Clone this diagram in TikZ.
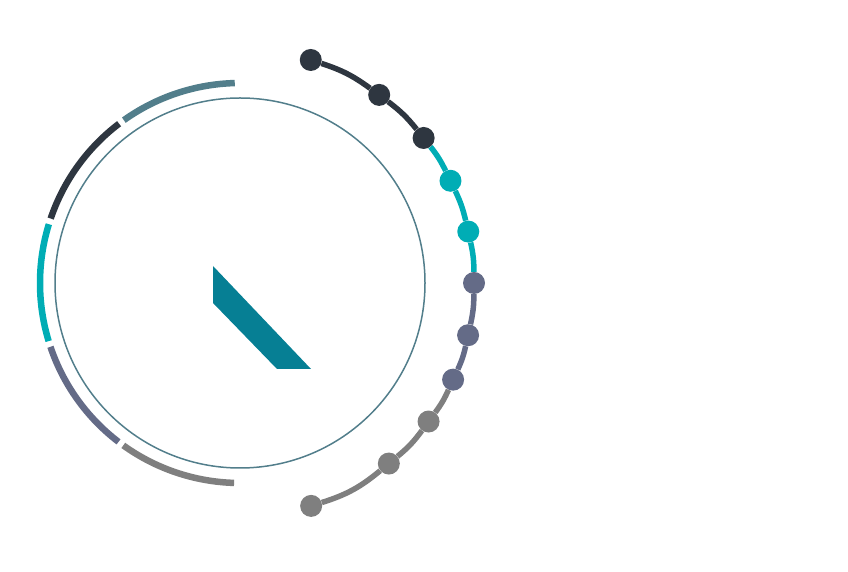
\documentclass[tikz,border=0pt]{standalone}
\usepackage{tikz}
\usetikzlibrary{calc}

\definecolor{steel}{HTML}{527E8B}
\definecolor{ink}{HTML}{2E3640}
\definecolor{aqua}{HTML}{00ADB5}
\definecolor{slate}{HTML}{646B87}
\definecolor{ash}{HTML}{7F7F7F}
\definecolor{petrol}{HTML}{067F94}

\begin{document}
\begin{tikzpicture}[x=1pt, y=1pt,
    dot/.style={circle, fill=#1, minimum size=22pt, inner sep=0pt},
    link/.style={line width=5.5pt, draw=#1}]
    \useasboundingbox (0,0) rectangle (848,572);
    \coordinate (c) at (240,289);
    % inner circle
    \draw[steel, line width=1.5pt] (c) circle (185);
    % outer ring, five pieces
    \foreach \col [count=\i from 0] in {steel,ink,aqua,slate,ash} {
        \pgfmathsetmacro{\sa}{91.5+35.7*\i}
        \pgfmathsetmacro{\ea}{\sa+34}
        \draw[\col, line width=6.5pt] ($(c)+(\sa:200)$) arc[start angle=\sa, end angle=\ea, radius=200];
    }
    % centre mark
    \fill[petrol] (213,306) -- (213,269) -- (277,203) -- (311,203) -- cycle;
    % dots on the right
    \foreach \a/\col [count=\i] in {72.4/ink, 53.5/ink, 38.3/ink, 25.9/aqua, 12.7/aqua, 0/slate, -12.9/slate, -24.4/slate, -36.3/ash, -50.5/ash, -72.3/ash}
        \node[dot=\col] (d\i) at ($(c)+(\a:234)$) {};
    \draw[link=ink] (d1) to[bend left=9] (d2);
    \draw[link=ink] (d2) to[bend left=7] (d3);
    \draw[link=aqua] (d3) to[bend left=6] (d4);
    \draw[link=aqua] (d4) to[bend left=6] (d5);
    \draw[link=aqua] (d5) to[bend left=6] (d6);
    \draw[link=slate] (d6) to[bend left=6] (d7);
    \draw[link=slate] (d7) to[bend left=6] (d8);
    \draw[link=ash] (d8) to[bend left=6] (d9);
    \draw[link=ash] (d9) to[bend left=7] (d10);
    \draw[link=ash] (d10) to[bend left=11] (d11);
\end{tikzpicture}
\end{document}
